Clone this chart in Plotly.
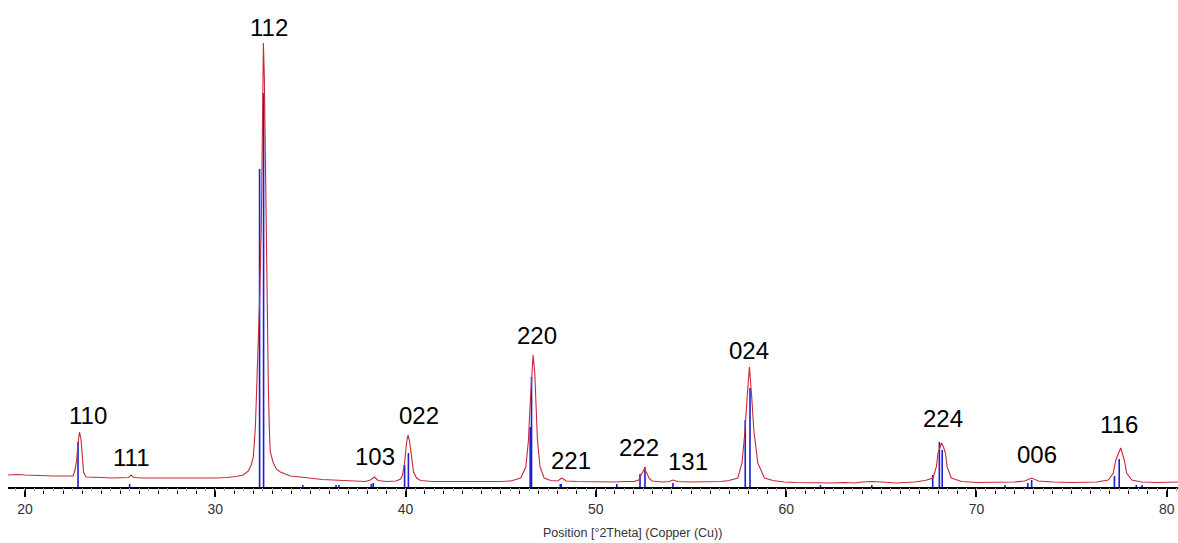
import plotly.graph_objects as go

# Measured pattern (red trace): 2theta vs intensity (arbitrary units)
pattern_2theta = [19.11, 19.6, 20.0, 20.5, 21.0, 21.5, 22.0, 22.3, 22.53, 22.63, 22.72, 22.79, 22.87, 22.95, 23.0, 23.08, 23.21,
                  23.6, 24.0, 24.6, 25.2, 25.45, 25.58, 25.72, 26.2, 27.0, 27.8, 28.5, 29.2, 30.0, 30.6, 31.1, 31.47, 31.74,
                  31.89, 32.0, 32.11, 32.21, 32.32, 32.42, 32.47, 32.53, 32.58, 32.63, 32.68, 32.74, 32.79, 32.84, 32.89,
                  33.05, 33.21, 33.42, 33.95, 34.47, 35.0, 35.6, 36.2, 36.8, 37.4, 37.9, 38.15, 38.37, 38.55, 39.0, 39.5,
                  39.74, 39.84, 39.95, 40.05, 40.13, 40.21, 40.32, 40.42, 40.58, 40.79, 41.4, 42.0, 43.0, 44.0, 45.0,
                  45.53, 46.05, 46.32, 46.46, 46.54, 46.62, 46.7, 46.79, 46.86, 46.93, 47.07, 47.28, 47.63, 48.0, 48.21,
                  48.45, 49.0, 50.0, 51.0, 51.5, 52.0, 52.26, 52.37, 52.55, 52.68, 52.79, 52.95, 53.5, 53.85, 54.05, 54.3,
                  55.0, 56.0, 56.58, 57.0, 57.46, 57.68, 57.84, 57.95, 58.07, 58.19, 58.3, 58.51, 58.86, 59.3, 59.89,
                  60.5, 61.5, 62.4, 63.0, 63.6, 64.0, 64.5, 65.0, 65.8, 66.3, 66.75, 67.3, 67.72, 67.89, 67.98, 68.16,
                  68.27, 68.37, 68.46, 68.68, 69.21, 70.0, 71.0, 72.0, 72.53, 72.9, 73.26, 74.0, 75.0, 76.0, 76.32,
                  76.93, 77.19, 77.32, 77.58, 77.77, 77.89, 78.16, 78.68, 79.5, 80.6]
pattern_counts = [12, 12.5, 12, 11.5, 11.5, 11, 11, 11, 11, 17, 27, 44, 55, 47, 30, 15, 10,
                  10, 9.5, 9, 9, 9.5, 12, 9.5, 9, 9, 8.5, 9, 9, 9, 9.5, 10.5, 12, 16,
                  22, 30, 60, 110, 180, 260, 350, 444, 410, 320, 250, 150, 100, 60, 35,
                  24, 18, 15, 11, 10, 8.5, 7.5, 7, 6.5, 6, 5.5, 7, 10, 6.5, 5.5, 6,
                  8, 12, 24, 44, 52, 46, 29, 15, 9, 6.5, 5.5, 5.5, 5, 5, 5.5,
                  6, 9, 20, 47, 80, 114, 132, 114, 80, 47, 20, 9, 6.5, 6, 9,
                  6, 5.5, 5, 5, 5.5, 5.5, 7, 12, 18, 14, 9, 6, 5, 5.5, 7, 5.5,
                  5, 5, 5.5, 6.5, 9, 24, 57, 90, 120, 90, 57, 24, 9, 6.5, 5,
                  4.5, 4, 4, 4.5, 4, 5, 5.5, 5, 4, 4.5, 5, 6.5, 9, 20, 34, 44,
                  40, 34, 20, 9, 5.5, 4.5, 4.5, 5, 6, 9, 6, 5, 4.5, 5, 5,
                  7, 14, 27, 39, 27, 14, 7, 5, 4.5, 5]

# Reference pattern sticks (blue)
ref_2theta = [22.79, 25.5, 32.33, 32.54, 34.6, 36.35, 36.5, 38.2, 38.3, 39.95, 40.15, 46.55, 46.62, 48.13, 48.18,
              51.1, 52.32, 52.58, 54.05, 57.85, 58.1, 61.8, 64.5, 67.7, 68.05, 68.2, 71.5, 72.7, 72.9, 77.25,
              77.5, 78.4, 78.7]
ref_counts = [45, 3, 318, 394, 2, 2, 2, 3, 4, 22, 34, 60, 110, 3, 3,
              3, 13, 20, 4, 67, 99, 2, 2, 12, 45, 37, 2, 4, 7, 11,
              28, 2, 2]

# Miller index labels
hkl_labels = ["110", "111", "112", "103", "022", "220", "221", "222", "131", "024", "224", "006", "116"]
hkl_x = [23.31, 25.57, 32.82, 38.39, 40.73, 46.93, 48.69, 52.26, 54.84, 58.07, 68.24, 73.18, 77.49]
hkl_y = [72, 30, 460, 31, 72, 152, 27, 40, 26, 137, 68.5, 33, 63]

tick_vals = [20, 30, 40, 50, 60, 70, 80]
x_title = "Position [°2Theta] (Copper (Cu))"

stick_x, stick_y = [], []
for p, h in zip(ref_2theta, ref_counts):
    stick_x += [p, p, None]
    stick_y += [0, h, None]

fig = go.Figure()
fig.add_trace(go.Scatter(x=stick_x, y=stick_y, mode="lines",
                         line=dict(color="#1e1ed2", width=1.6), hoverinfo="skip", showlegend=False))
fig.add_trace(go.Scatter(x=pattern_2theta, y=pattern_counts, mode="lines",
                         line=dict(color="#c8283a", width=1.1), showlegend=False))
# faint half-degree ticks
fig.add_trace(go.Scatter(x=[tick_vals[0]], y=[None], xaxis="x2", showlegend=False, hoverinfo="skip"))

for t, x, y in zip(hkl_labels, hkl_x, hkl_y):
    fig.add_annotation(x=x, y=y, text=t, showarrow=False, xanchor="center", yanchor="middle",
                       font=dict(family="Liberation Sans, Arial", size=24, color="black"))

fig.add_annotation(x=(632 - 8) / 1170, y=-0.094, xref="paper", yref="paper", text=x_title,
                   showarrow=False, xanchor="center", yanchor="middle",
                   font=dict(family="Liberation Sans, Arial", size=12.5, color="#333333"))

xr = [19.11, 80.59]
fig.update_layout(
    width=1178, height=543,
    margin=dict(l=8, r=0, t=0, b=56),
    paper_bgcolor="white", plot_bgcolor="white",
    xaxis=dict(range=xr, showgrid=False, zeroline=False, showline=True, linecolor="black", linewidth=2,
               ticks="outside", ticklen=8, tickwidth=1.5, tickcolor="black",
               tickvals=tick_vals, ticktext=[str(v) for v in tick_vals],
               tickfont=dict(family="Liberation Sans, Arial", size=14, color="#333333"),
               minor=dict(ticks="outside", dtick=1, tick0=0, ticklen=5, tickwidth=1, tickcolor="black")),
    xaxis2=dict(range=xr, overlaying="x", anchor="y", side="bottom", showgrid=False, zeroline=False,
                showline=False, ticks="outside", dtick=0.5, tick0=0.5, ticklen=3, tickwidth=1,
                tickcolor="#aaaaaa", showticklabels=False),
    yaxis=dict(range=[0, 487], visible=False),
)

fig.write_html("out.html", config={"displayModeBar": False},
               post_script="document.body.style.margin='0';document.body.style.overflow='hidden';")
